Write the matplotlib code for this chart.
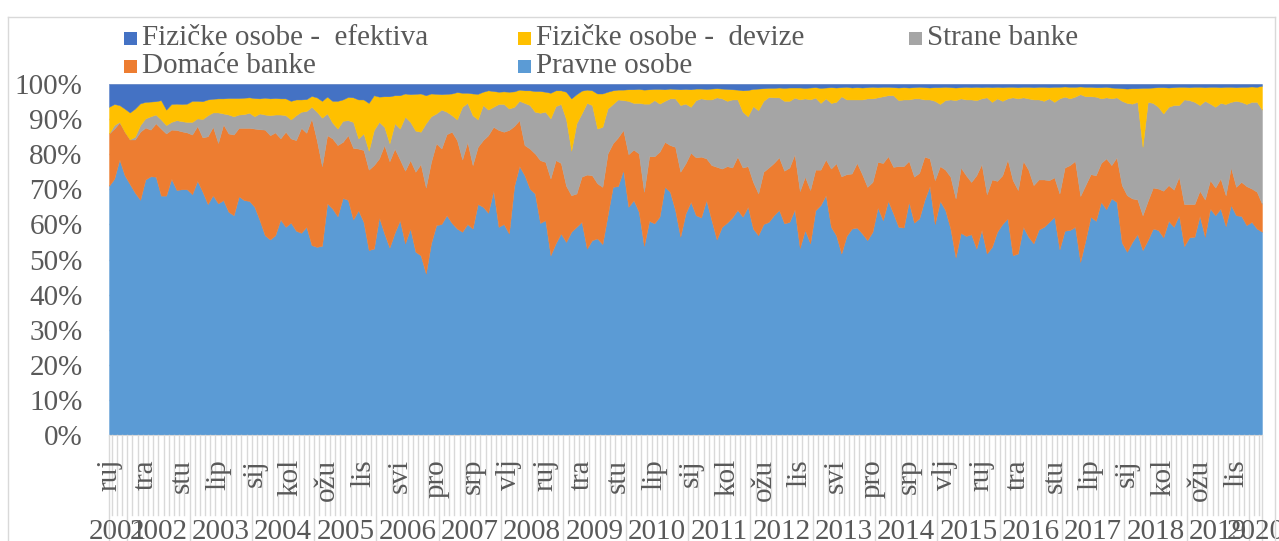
import matplotlib.pyplot as plt
import numpy as np
from matplotlib.patches import Rectangle
from matplotlib.lines import Line2D
from matplotlib.transforms import blended_transform_factory

plt.rcParams['font.family'] = ['Liberation Serif', 'DejaVu Serif']

# gornje granice slojeva (kumulativni udjel u %), mjesečno od ruj 2001
pravne_top = [
    71, 73, 78.5, 74, 71.5, 69, 67, 72.8, 73.7, 73.6,
    68.2, 68.2, 73, 69.8, 70, 70, 68.6, 72.4, 69.3, 65.8,
    68.3, 66, 66.9, 63.6, 62.6, 68, 66.9, 66.7, 65, 61.2,
    56.9, 55.7, 56.9, 61.4, 59.3, 60.5, 58.2, 57.6, 59.3, 54.1,
    53.6, 53.9, 66, 64.5, 62.3, 67.5, 67, 61.4, 64, 60.7,
    52.7, 53.1, 62, 57.4, 53.4, 57.6, 61.2, 54.6, 58.8, 52.2,
    51.2, 46, 54.6, 59.8, 60.1, 62.6, 60.4, 58.8, 57.9, 60.1,
    58.8, 65.8, 65, 63.3, 69.6, 59.3, 60.1, 57.4, 70.9, 76.6,
    74, 70.2, 68.8, 60.4, 61.2, 51.2, 54.6, 57.4, 55, 57.9,
    59.3, 60.7, 53.1, 55.5, 56, 54.4, 62.6, 70.7, 70.9, 75.5,
    65, 66.9, 63.6, 53.9, 61, 60.3, 62.2, 70.7, 69.3, 64.1,
    56.5, 63.1, 66.4, 62.6, 62, 66.9, 61.2, 55.7, 59.3, 60.5,
    62, 64.1, 62.2, 65, 58.8, 56.9, 60.1, 60.7, 62.6, 64.1,
    60.3, 60.7, 64.2, 53.3, 58.4, 54.6, 64, 65.5, 68.3, 59.3,
    56.9, 51.7, 56.7, 58.8, 59.1, 57.4, 55.5, 57.9, 64.8, 61.2,
    66.7, 63.1, 59.3, 59.1, 66.4, 60.5, 61.7, 66.9, 70.9, 60.1,
    66.7, 64.1, 58.8, 50.6, 57.6, 56.7, 57.2, 53.1, 58.4, 51.7,
    53.6, 57.9, 60.1, 61.7, 51.2, 51.7, 59.3, 56.5, 54.6, 58.5,
    59.3, 60.7, 62.2, 52.9, 58.2, 58.4, 59.3, 49.3, 55.5, 62.2,
    61, 66.4, 64.3, 67.4, 66.4, 54.8, 52.2, 55, 57.2, 52.7,
    55.5, 58.8, 58.4, 56.3, 61, 59.3, 62.6, 53.8, 56.3, 56.5,
    62.4, 56.5, 64.5, 62.6, 64.5, 59.5, 65.5, 62.6, 62.4, 59.8,
    60.7, 58.8, 57.9,
]
domace_top = [
    85.9, 87.3, 89, 86.9, 84.2, 84.2, 86.4, 87.6, 87, 88.8,
    87.3, 85.9, 87, 86.9, 86.5, 86.2, 85.6, 88, 84.8, 85.1,
    87.8, 83.2, 88.5, 85.9, 85.6, 87.5, 87.5, 87.5, 87.3, 87.1,
    87, 85.4, 86.2, 84.5, 86.4, 84.5, 84, 87.5, 86.1, 90.2,
    84, 76.6, 85.4, 84.5, 82.6, 83.5, 85.4, 81.8, 81.6, 81.2,
    75.6, 76.9, 78.8, 82.6, 78, 81.6, 78.5, 75.3, 78.3, 75,
    77.2, 70.5, 77.8, 83.1, 81.6, 85.7, 86.4, 84, 78.5, 83.5,
    76.9, 82.1, 84, 85.4, 87.8, 86.9, 86.4, 86.9, 88, 89.7,
    82.6, 81.6, 80.2, 78.3, 77.8, 73.1, 78.3, 77.5, 71, 68.3,
    68.8, 73.6, 74.2, 74, 71.7, 70.7, 80.2, 83.1, 84.8, 86.9,
    80, 81.3, 80.2, 69.3, 79.4, 79.4, 80.7, 83.5, 82.6, 82.1,
    75, 77.4, 80.4, 79.1, 79.3, 78.8, 76.9, 76.4, 75.9, 76.6,
    76.2, 79.3, 76.2, 76.6, 72.1, 68.8, 75, 76.2, 77.5, 79.1,
    75.3, 76.2, 80, 69.5, 73.6, 69.8, 75.6, 75.6, 78.5, 75.9,
    77.4, 73.7, 74.3, 74.5, 77.5, 74.3, 70.7, 72.1, 77.8, 77.5,
    79.4, 76.4, 76.6, 76.6, 78.1, 73.6, 74.7, 79.3, 78.8, 72.6,
    76.6, 75.6, 73.6, 67.4, 76.2, 74, 72.1, 74, 77.2, 68.6,
    72.8, 72.4, 74, 78.5, 72.6, 69.8, 78.1, 75.6, 71.2, 72.8,
    72.8, 72.6, 73.4, 68.8, 76.2, 76.9, 78.1, 68.1, 71.2, 74.3,
    74, 77.5, 78.8, 76.9, 79.1, 71.2, 68.3, 67.4, 67.1, 62.6,
    66.7, 70.5, 70.2, 69.6, 71.2, 69.9, 73.6, 65.8, 65.8, 65.8,
    69.6, 67.1, 72.6, 70.5, 73.1, 68.3, 76.2, 70.7, 72.1, 70.9,
    70.2, 69.3, 65.8,
]
strane_top = [
    85.9, 88.3, 89.2, 86.4, 84.2, 85, 88.3, 90.2, 90.8, 91.3,
    89.9, 88.3, 89.2, 89.7, 89.4, 89.2, 89.2, 90.2, 90, 91.1,
    91.9, 91.9, 91.6, 91.3, 90.8, 91.3, 91.4, 91.8, 90.8, 91.6,
    91.3, 91.1, 91.3, 91.3, 91.1, 89.9, 91.1, 92.1, 92.3, 93.5,
    92.1, 90.4, 91.6, 89, 87.3, 89.5, 89.7, 89.2, 84.5, 85.9,
    81, 86.9, 89.2, 87.8, 83.1, 88.8, 87.3, 90.7, 89.2, 86.7,
    86.4, 88.8, 90.8, 91.6, 92.7, 92.1, 91.1, 89.9, 93.5, 94.6,
    91.1, 89.9, 94, 92.7, 93.5, 94.3, 94.3, 93, 93.5, 95.2,
    94.6, 94, 92.1, 91.8, 92.1, 90.2, 93.7, 94.3, 90, 81,
    88.8, 91.6, 94.6, 94, 87.3, 87.8, 93, 94.3, 95.6, 95.4,
    95.2, 94.6, 94.6, 94.4, 94.4, 95.4, 94.4, 95.2, 95.9, 95.9,
    94, 94.4, 93.5, 95.4, 95.9, 95.6, 95.6, 96.2, 95.9, 95.2,
    95.6, 95.6, 92.1, 90.8, 93.7, 92.5, 95.2, 96.3, 96.2, 96.2,
    95.2, 95.2, 96.1, 95.6, 95.9, 95.6, 96.1, 94.6, 95.9, 94.6,
    94.9, 96.5, 95.6, 95.6, 95.6, 95.6, 95.9, 95.9, 96.2, 96.5,
    96.8, 96.8, 95.4, 95.6, 95.6, 95.9, 95.9, 95.6, 95.6, 95.2,
    94.3, 95.4, 95.6, 95.4, 95.9, 95.6, 95.6, 95.4, 95.9, 96.2,
    94.9, 95.9, 95.2, 95.9, 96.2, 95.9, 96.2, 95.9, 95.6, 95.6,
    95.2, 95.9, 94.9, 95.9, 96.4, 95.9, 96.4, 97.1, 96.5, 96.5,
    96.4, 95.9, 96.2, 95.9, 96.2, 95.2, 94.6, 94.4, 94.9, 82.1,
    94.9, 94.6, 93.5, 91.6, 93.5, 94, 94, 95.6, 95.4, 94.9,
    94, 95.2, 94.4, 93.5, 94.6, 94.3, 94.9, 95.2, 94.9, 94.3,
    94.9, 94.9, 92.7,
]
devize_top = [
    93.5, 94.3, 94, 93, 91.9, 93, 94.5, 94.9, 95, 95.1,
    95.4, 92.7, 94.3, 94.4, 94.3, 94.4, 95.2, 95.2, 95.1, 95.6,
    95.8, 95.9, 95.9, 96, 96, 96, 96.1, 96.2, 96, 95.9,
    96.1, 95.9, 96, 95.9, 95.9, 95.2, 95.6, 95.6, 95.7, 96.6,
    96.2, 95.2, 96.4, 95.2, 95.2, 95.6, 96.3, 96.2, 95.6, 95.6,
    94.6, 96.8, 96.4, 96.5, 96.5, 96.8, 96.8, 97.3, 97.1, 97.2,
    97.3, 96.8, 97.3, 97.2, 97.1, 97.2, 97.3, 97.7, 97.5, 97.5,
    97.3, 97.2, 97.8, 98.2, 98, 97.8, 97.9, 97.8, 97.9, 98.4,
    98.2, 98.2, 98, 98, 97.8, 97.5, 98.2, 98.2, 97.8, 95.9,
    97.1, 98.1, 98.4, 98.2, 97.3, 97.3, 97.8, 98.2, 98.4, 98.4,
    98.5, 98.5, 98.6, 98.4, 98.5, 98.6, 98.6, 98.5, 98.7, 98.6,
    98.5, 98.6, 98.5, 98.7, 98.7, 98.6, 98.7, 98.8, 98.7, 98.6,
    98.5, 98.4, 98.2, 98.3, 98.6, 98.7, 98.8, 98.9, 98.9, 99,
    98.9, 99, 99, 99, 98.9, 99, 99.1, 98.9, 99, 99.1,
    99, 99.1, 99.2, 99, 99.1, 99, 99.1, 99.2, 99.1, 99.2,
    99.2, 99.1, 99, 99.1, 99, 99.1, 99.2, 99.1, 99, 99.1,
    99.1, 99.2, 99.1, 99, 99.1, 99.2, 99.1, 99.2, 99.1, 99.2,
    99.1, 99.2, 99.1, 99.2, 99.2, 99.1, 99.2, 99.2, 99.1, 99.2,
    99.2, 99.1, 99.2, 99.2, 99.3, 99.2, 99.2, 99.3, 99.2, 99.2,
    99.1, 99.1, 99.2, 99, 98.9, 98.8, 98.7, 98.8, 98.8, 98.9,
    98.9, 99, 99.1, 99.1, 99, 99.1, 99.2, 99.2, 99.1, 99.2,
    99.2, 99.1, 99.2, 99.2, 99.1, 99.2, 99.2, 99.1, 99.2, 99.2,
    99.3, 99.2, 99.5,
]

series = ['Pravne osobe', 'Domaće banke', 'Strane banke',
          'Fizičke osobe -  devize', 'Fizičke osobe -  efektiva']
colors = ['#5B9BD5', '#ED7D31', '#A5A5A5', '#FFC000', '#4472C4']

# oznake na osi x (svaki 7. mjesec) i godine
month_labels = ['ruj', 'tra', 'stu', 'lip', 'sij', 'kol', 'ožu', 'lis', 'svi', 'pro',
                'srp', 'vlj', 'ruj', 'tra', 'stu', 'lip', 'sij', 'kol', 'ožu', 'lis',
                'svi', 'pro', 'srp', 'vlj', 'ruj', 'tra', 'stu', 'lip', 'sij', 'kol',
                'ožu', 'lis']
years = list(range(2001, 2021))
first_month = 9  # rujan 2001

W, H = 1279, 541
txt = '#595959'
grid = '#D9D9D9'
fs = 21

n = len(pravne_top)
x = np.arange(n)
levels = [np.zeros(n), np.array(pravne_top), np.array(domace_top),
          np.array(strane_top), np.array(devize_top), np.full(n, 100.0)]

fig = plt.figure(figsize=(W / 100, H / 100), dpi=100)
ax = fig.add_axes([109 / W, 1 - 435 / H, (1262 - 109) / W, 351 / H])

for k in range(5):
    ax.fill_between(x, levels[k], levels[k + 1], facecolor=colors[k],
                    edgecolor=colors[k], lw=0.3, zorder=2)

ax.set_xlim(0, n - 1)
ax.set_ylim(0, 100)
ax.set_yticks(range(0, 101, 10))
ax.set_yticklabels([f'{v}%' for v in range(0, 101, 10)], fontsize=fs, color=txt)
ax.tick_params(axis='y', length=0, pad=19)
ax.set_xticks([])
ax.grid(axis='y', color=grid, lw=1, zorder=0)
for s in ['top', 'right', 'left']:
    ax.spines[s].set_visible(False)
ax.spines['bottom'].set_color(grid)

# kategorijska os: crtice za mjesece, duže crte za granice godina
tr = blended_transform_factory(ax.transData, ax.transAxes)
month_idx = [(first_month - 1 + i) % 12 for i in range(n)]
for i in range(n - 1):
    xb = i + 0.5
    if month_idx[i + 1] == 0:
        ax.add_line(Line2D([xb, xb], [0, -0.35], transform=tr, color=grid,
                           lw=1, clip_on=False))
    else:
        ax.add_line(Line2D([xb, xb], [0, -80 / 351], transform=tr, color=grid,
                           lw=1, clip_on=False))
for xb in [0, n - 1]:
    ax.add_line(Line2D([xb, xb], [0, -0.35], transform=tr, color=grid,
                       lw=1, clip_on=False))

for k, lab in enumerate(month_labels):
    ax.text(7 * k, -24 / 351, lab, transform=tr, rotation=90, ha='center',
            va='top', fontsize=fs, color=txt)

year_of = [2001 + (first_month - 1 + i) // 12 for i in range(n)]
for y in years:
    idx = [i for i in range(n) if year_of[i] == y]
    if not idx:
        continue
    lo = max(idx[0] - 0.5, 0)
    hi = min(idx[-1] + 0.5, n - 1)
    ax.text((lo + hi) / 2, -97 / 351, str(y), transform=tr, ha='center',
            va='center', fontsize=fs, color=txt)

# legenda
leg = [(series[4], 124, 38), (series[3], 518, 38), (series[2], 909, 38),
       (series[1], 124, 66), (series[0], 518, 66)]
cmap = dict(zip(series, colors))
for name, lx, ly in leg:
    fig.add_artist(Rectangle((lx / W, 1 - (ly + 6.5) / H), 13 / W, 13 / H,
                             transform=fig.transFigure, facecolor=cmap[name],
                             edgecolor='none'))
    fig.text((lx + 18) / W, 1 - ly / H, name, ha='left', va='center',
             fontsize=fs, color=txt)

# okvir grafikona
for xs, ys in [([8, 8], [17, H]), ([1275, 1275], [17, H]), ([8, 1275], [17, 17])]:
    fig.add_artist(Line2D([v / W for v in xs], [1 - v / H for v in ys],
                          transform=fig.transFigure, color=grid, lw=1))

fig.savefig('out.png', dpi=100)
